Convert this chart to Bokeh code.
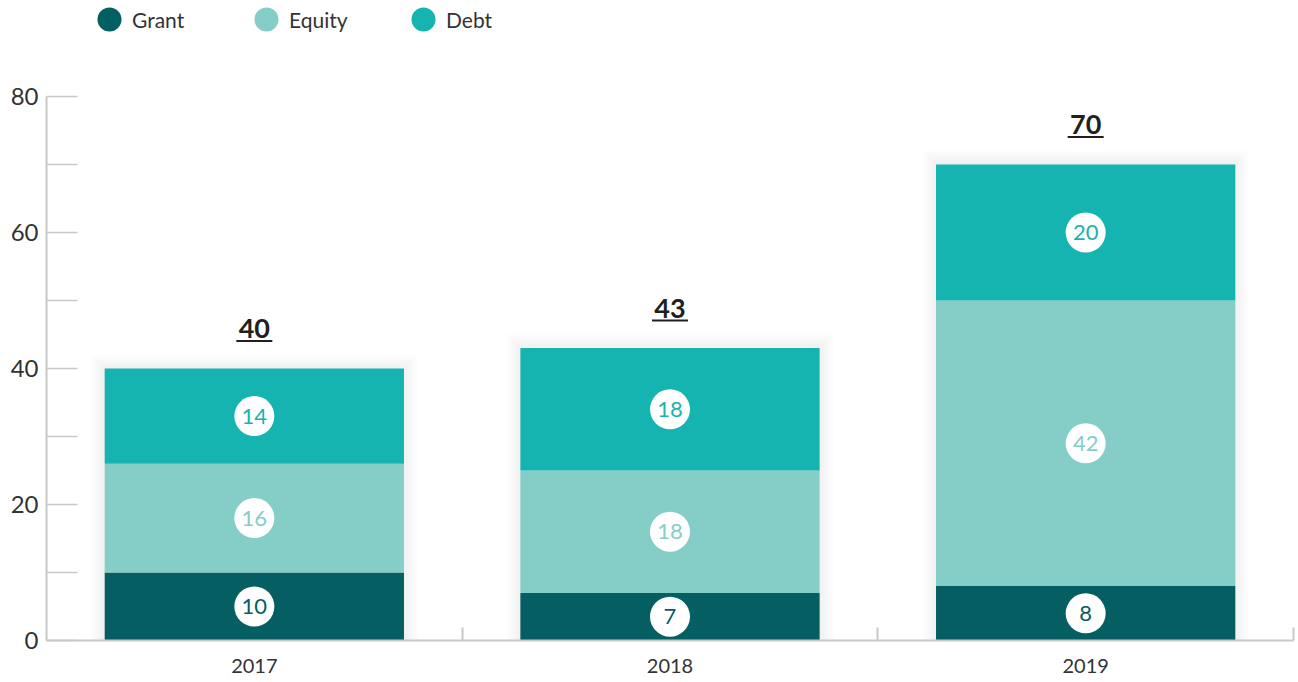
from bokeh.plotting import figure
from bokeh.models import FixedTicker, Legend, LegendItem, ColumnDataSource
from bokeh.layouts import column
from bokeh.embed import file_html
from bokeh.resources import INLINE
from bokeh.core.properties import value

# ---- data ----
years = ["2017", "2018", "2019"]
grant = [10, 7, 8]
equity = [16, 18, 42]
debt = [14, 18, 20]
series_names = ["Grant", "Equity", "Debt"]
colors = ["#045E62", "#84CEC7", "#16B4B0"]
y_ticks = [0, 20, 40, 60, 80]
y_minor = [10, 30, 50, 70]

FONT = "Lato"
W = 1298
LEG_H = 40
H = 682 - LEG_H
ML, MR, MT, MB = 46, 5, 96 - LEG_H, 42
FW = W - ML - MR
FH = H - MT - MB
YMAX = 80
n = len(years)
px_x = FW / n
px_y = FH / YMAX
BAR_W = 0.72

xs = [i + 0.5 for i in range(n)]
series = [grant, equity, debt]
totals = [sum(v) for v in zip(*series)]

# ---- legend strip ----
lf = figure(width=W, height=LEG_H, x_range=(0, 1), y_range=(0, 1),
            output_backend="svg", toolbar_location=None,
            x_axis_location=None, y_axis_location=None,
            min_border_left=0, min_border_right=0, min_border_top=0, min_border_bottom=0)
lf.outline_line_color = None
lf.xgrid.visible = False
lf.ygrid.visible = False
items = []
for name, col in zip(series_names, colors):
    r = lf.ellipse(x=[0.5], y=[-1000], width=24, height=24,
                   width_units="screen", height_units="screen",
                   fill_color=col, line_color=None)
    items.append(LegendItem(label=name, renderers=[r]))
legend = Legend(items=items, orientation="horizontal", location=(48, 6),
                glyph_width=30, glyph_height=30, label_standoff=8,
                label_width=119, spacing=0, padding=0, margin=0,
                border_line_color=None, background_fill_alpha=0,
                label_text_font=FONT, label_text_font_size="21px",
                label_text_color="#333333")
lf.add_layout(legend)

# ---- main chart ----
p = figure(width=W, height=H, x_range=(0, n), y_range=(0, YMAX),
           output_backend="svg", toolbar_location=None,
           min_border_left=ML, min_border_right=MR,
           min_border_top=MT, min_border_bottom=MB)
p.outline_line_color = None
p.xgrid.visible = False
p.ygrid.visible = False
p.background_fill_color = "white"
p.border_fill_color = "white"

# soft shadow around bars
for k in range(2, 16, 2):
    p.vbar(x=xs, width=BAR_W + 2 * k / px_x,
           top=[t + k / px_y for t in totals], bottom=0,
           fill_color="black", fill_alpha=0.009, line_color=None)

src = ColumnDataSource(dict(x=xs, Grant=grant, Equity=equity, Debt=debt))
p.vbar_stack(series_names, x="x", width=BAR_W, color=colors, line_color=None, source=src)

# segment value badges
bottoms = [0] * n
for vals, col in zip(series, colors):
    mids = [b + v / 2 for b, v in zip(bottoms, vals)]
    p.scatter(x=xs, y=mids, size=40, fill_color="white", line_color=None)
    p.text(x=xs, y=mids, text=[str(v) for v in vals], text_align="center",
           text_baseline="middle", text_color=col, text_font=value(FONT),
           text_font_size="22px")
    bottoms = [b + v for b, v in zip(bottoms, vals)]

# totals with underline
p.text(x=xs, y=totals, text=[str(t) for t in totals], text_align="center",
       text_baseline="middle", y_offset=-40, text_color="#231F20",
       text_font=value(FONT), text_font_style="bold", text_font_size="27px")
p.segment(x0=[x - 18 / px_x for x in xs], x1=[x + 18 / px_x for x in xs],
          y0=[t + 27.5 / px_y for t in totals], y1=[t + 27.5 / px_y for t in totals],
          line_color="#231F20", line_width=2)

AX = "#c8c8c8"
# x axis
p.xaxis.ticker = FixedTicker(ticks=xs, minor_ticks=[i + 1 for i in range(n)])
p.xaxis.major_label_overrides = {x: y for x, y in zip(xs, years)}
p.xaxis.major_tick_line_color = None
p.xaxis.major_tick_out = 0
p.xaxis.major_tick_in = 0
p.xaxis.minor_tick_in = 13
p.xaxis.minor_tick_out = 0
p.xaxis.minor_tick_line_color = AX
p.xaxis.minor_tick_line_width = 2
p.xaxis.axis_line_color = AX
p.xaxis.axis_line_width = 2
p.xaxis.major_label_standoff = 18
p.xaxis.major_label_text_font = FONT
p.xaxis.major_label_text_font_size = "20px"
p.xaxis.major_label_text_color = "#333333"

# y axis
p.yaxis.ticker = FixedTicker(ticks=y_ticks, minor_ticks=y_minor)
p.yaxis.major_tick_in = 31
p.yaxis.major_tick_out = 0
p.yaxis.minor_tick_in = 31
p.yaxis.minor_tick_out = 0
p.yaxis.major_tick_line_color = AX
p.yaxis.minor_tick_line_color = AX
p.yaxis.major_tick_line_width = 1.5
p.yaxis.minor_tick_line_width = 1.5
p.yaxis.axis_line_color = AX
p.yaxis.axis_line_width = 2
p.yaxis.major_label_standoff = 8
p.yaxis.major_label_text_font = FONT
p.yaxis.major_label_text_font_size = "24px"
p.yaxis.major_label_text_color = "#333333"

open("out.html", "w").write(file_html(column(lf, p, spacing=0), INLINE))
